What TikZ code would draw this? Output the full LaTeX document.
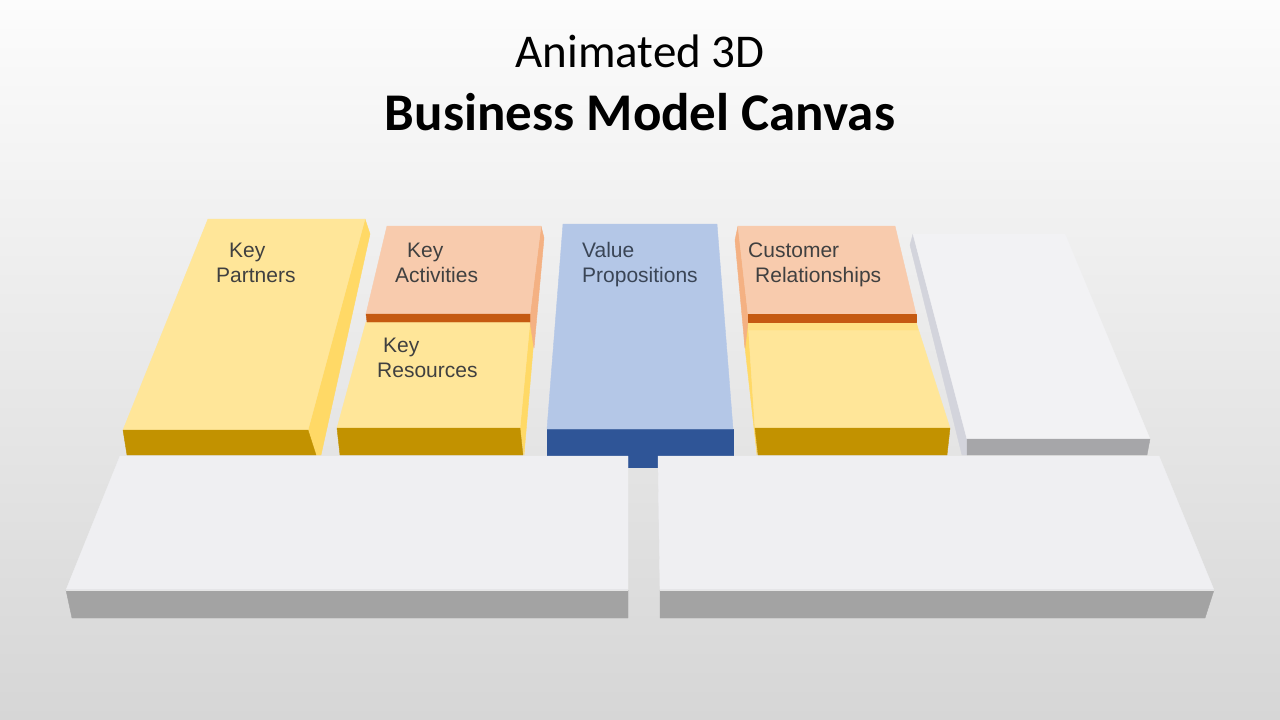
\documentclass[tikz,border=0pt]{standalone}
\usepackage{fontspec}
\setmainfont{Liberation Sans}
\newfontfamily\titlefont{Carlito}
\definecolor{bgtop}{HTML}{FCFCFC}
\definecolor{bgbot}{HTML}{D6D6D6}
\definecolor{ytop}{HTML}{FFE699}
\definecolor{yside}{HTML}{FFD966}
\definecolor{ystrip}{HTML}{FFE183}
\definecolor{yfront}{HTML}{C29200}
\definecolor{ptop}{HTML}{F8CBAD}
\definecolor{pside}{HTML}{F4B183}
\definecolor{pfront}{HTML}{C55A11}
\definecolor{btop}{HTML}{B4C7E7}
\definecolor{bfront}{HTML}{2F5597}
\definecolor{wtop}{HTML}{F2F2F4}
\definecolor{wside}{HTML}{D3D4DC}
\definecolor{wfront}{HTML}{A6A6A9}
\definecolor{gtop}{HTML}{EFEFF2}
\definecolor{gfront}{HTML}{A3A3A3}
\definecolor{labelc}{HTML}{404040}
\definecolor{vpc}{HTML}{3A4556}
\begin{document}
\begin{tikzpicture}[x=1pt,y=-1pt,
  lbl/.style={anchor=base west,inner sep=0pt,text=labelc,font=\fontsize{21}{25}\selectfont},
  face/.style={line join=round,line width=0.4pt},
  yt/.style={face,fill=ytop,draw=ytop},
  ys/.style={face,fill=yside,draw=yside},
  yst/.style={face,fill=ystrip,draw=ystrip},
  yf/.style={face,fill=yfront,draw=yfront},
  pt/.style={face,fill=ptop,draw=ptop},
  ps/.style={face,fill=pside,draw=pside},
  pf/.style={face,fill=pfront,draw=pfront},
  bt/.style={face,fill=btop,draw=btop},
  bf/.style={face,fill=bfront,draw=bfront},
  wt/.style={face,fill=wtop,draw=wtop},
  ws/.style={face,fill=wside,draw=wside},
  wf/.style={face,fill=wfront,draw=wfront},
  gt/.style={face,fill=gtop,draw=gtop},
  gf/.style={face,fill=gfront,draw=gfront}]
\useasboundingbox (0,0) rectangle (1280,720);
\shade[top color=bgtop,bottom color=bgbot] (0,0) rectangle (1280,720);

% Title
\node[anchor=base,inner sep=0pt,font=\titlefont\fontsize{47}{50}\selectfont] (t1) at (640,67) {Animated 3D};
\node[anchor=base,inner sep=0pt,font=\titlefont\bfseries\fontsize{53}{56}\selectfont] (t2) at (640,130) {Business Model Canvas};

% Key Partners
\fill[ys] (365,219) -- (370,234) -- (321,455) -- (316,455) -- (308,430) -- cycle;
\fill[yt] (208,219) -- (365,219) -- (308,430) -- (123,430) -- cycle;
\fill[yf] (123,430) -- (308,430) -- (316,455) -- (127,455) -- cycle;

% Key Resources
\fill[ys] (530,322) -- (534,338) -- (524,455) -- (520,428) -- cycle;
\fill[yt] (366,322) -- (530,322) -- (520,428) -- (337,428) -- cycle;
\fill[yf] (337,428) -- (520,428) -- (523,455) -- (340,455) -- cycle;

% Key Activities
\fill[ps] (541,226) -- (544,238) -- (534,348) -- (530,322) -- (530,314) -- cycle;
\fill[pt] (387,226) -- (541,226) -- (530,314) -- (366,314) -- cycle;
\fill[pf] (366,314) -- (530,314) -- (530,322) -- (367,322) -- cycle;

% Value Propositions
\fill[bf] (547,429) -- (733,429) -- (733,467) -- (547,467) -- cycle;
\fill[bt] (563,224) -- (717,224) -- (733,429) -- (547,429) -- cycle;

% Channels
\fill[ys] (748,322) -- (744,338) -- (757,455) -- (755,428) -- cycle;
\fill[yt] (748,322) -- (916,322) -- (950,428) -- (755,428) -- cycle;
\fill[yst] (748,322) -- (916,322) -- (918,330) -- (749,330) -- cycle;
\fill[yf] (755,428) -- (950,428) -- (947,455) -- (758,455) -- cycle;

% Customer Relationships
\fill[ps] (738,226) -- (735,240) -- (745,348) -- (748,322) -- (748,314) -- cycle;
\fill[pt] (738,226) -- (895,226) -- (916,314) -- (748,314) -- cycle;
\fill[pf] (748,314) -- (916,314) -- (916,322) -- (748,322) -- cycle;

% Customer Segments
\fill[ws] (913,234) -- (910,245) -- (962,455) -- (967,455) -- (967,439) -- cycle;
\fill[wt] (913,234) -- (1065,234) -- (1150,439) -- (967,439) -- cycle;
\fill[wf] (967,439) -- (1150,439) -- (1147,455) -- (967,455) -- cycle;

% Cost Structure
\fill[gt] (120,456) -- (628,456) -- (628,590) -- (66,590) -- cycle;
\fill[gf] (66,590) -- (628,590) -- (628,618) -- (72,618) -- cycle;
\draw[white!80!gray,line width=1pt] (66,590) -- (628,590);

% Revenue Streams
\fill[gt] (658,456) -- (1159,456) -- (1214,590) -- (660,590) -- cycle;
\fill[gf] (660,590) -- (1214,590) -- (1205,618) -- (660,618) -- cycle;
\draw[white!80!gray,line width=1pt] (660,590) -- (1214,590);

% Labels
\node[lbl] (kp1) at (229,257) {Key};
\node[lbl] (kp2) at (216,282) {Partners};
\node[lbl] (ka1) at (407,257) {Key};
\node[lbl] (ka2) at (395,282) {Activities};
\node[lbl] (kr1) at (383,352) {Key};
\node[lbl] (kr2) at (377,377) {Resources};
\node[lbl,text=vpc] (vp1) at (582,257) {Value};
\node[lbl,text=vpc] (vp2) at (582,282) {Propositions};
\node[lbl] (cr1) at (748,257) {Customer};
\node[lbl] (cr2) at (755,282) {Relationships};
\end{tikzpicture}
\end{document}
